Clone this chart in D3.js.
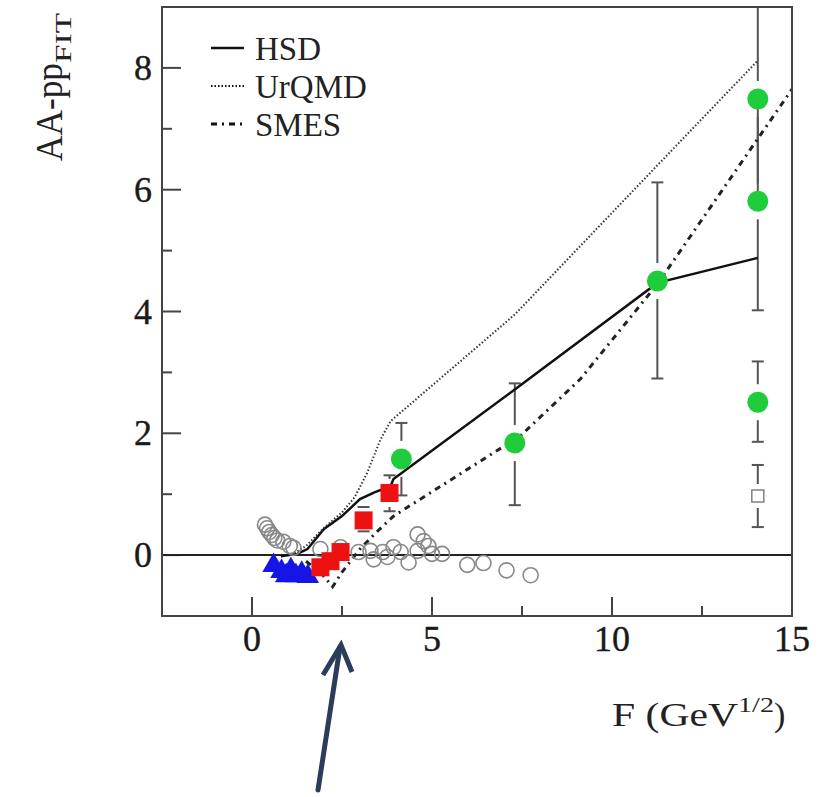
<!DOCTYPE html>
<html><head><meta charset="utf-8">
<script src="https://cdn.jsdelivr.net/npm/d3@7"></script>
<style>body{margin:0;background:#fff}svg{display:block}</style>
</head><body>
<svg id="c" width="828" height="797"></svg>
<script>
// ---- data ----
const xTicks = [0, 5, 10, 15];
const xMinor = [2.5, 7.5, 12.5];
const yTicks = [0, 2, 4, 6, 8];
const yMinor = [1, 3, 5, 7];
const legendNames = ["HSD", "UrQMD", "SMES"];

const hsd = [[0.8,-0.02],[1.26,0.02],[1.54,0.1],[2.0,0.43],[2.5,0.64],[3.0,0.92],[3.4,1.03],[3.85,1.13],[3.93,1.25],[7.3,2.72],[11.26,4.47],[14.05,4.88]];
const urqmd = [[1.1,0.0],[1.5,0.15],[2.0,0.45],[2.5,0.7],[2.85,0.95],[3.2,1.35],[3.57,1.9],[3.85,2.2],[7.3,3.95],[11.26,6.40],[14.05,8.12]];
const smes = [[1.5,-0.1],[1.9,-0.28],[2.24,-0.52],[2.5,-0.28],[3.0,0.1],[3.5,0.4],[3.93,0.64],[7.46,1.96],[9.12,2.89],[11.26,4.45],[15.0,7.65]];

// green circles: x, y, errLow, errHigh
const greenX = [4.15, 7.3, 11.26, 14.05, 14.05, 14.05];
const greenY = [1.58, 1.84, 4.5, 7.49, 5.81, 2.51];
const greenLo = [0.98, 0.82, 2.9, 5.9, 4.02, 1.86];
const greenHi = [2.17, 2.82, 6.12, 9.1, 7.6, 3.18];

// red squares
const redX = [3.82, 3.1, 2.46, 2.18, 1.9];
const redY = [1.02, 0.57, 0.05, -0.1, -0.2];
const redLo = [0.72, 0.39, null, null, null];
const redHi = [1.31, 0.79, null, null, null];

// blue triangles
const blueX = [0.6, 0.82, 0.95, 1.08, 1.22, 1.38, 1.55];
const blueY = [-0.17, -0.27, -0.34, -0.24, -0.34, -0.3, -0.35];

// open gray circles
const grayX = [0.36,0.42,0.48,0.55,0.62,0.7,0.87,1.05,1.15,1.9,2.46,2.96,3.29,3.38,3.63,3.76,3.93,4.13,4.35,4.6,4.6,4.77,4.9,5.0,5.28,5.98,6.43,7.07,7.74];
const grayY = [0.5,0.44,0.38,0.33,0.28,0.24,0.22,0.15,0.12,0.1,0.13,0.05,0.07,-0.07,0.05,-0.03,0.13,0.05,-0.12,0.34,0.07,0.23,0.15,0.02,0.02,-0.16,-0.13,-0.25,-0.33];

// open square
const sqX = [14.05], sqY = [0.97], sqLo = [0.46], sqHi = [1.48];

// ---- drawing ----
const svg = d3.select("#c");
const L = 162, R = 792, T = 7, B = 616;
const x = d3.scaleLinear().domain([-2.5, 15]).range([L, R]);
const y = d3.scaleLinear().domain([-1, 9]).range([B, T]);
const font = "'Liberation Serif', 'Times New Roman', serif";
const axisCol = "#444";

const g = svg.append("g");
g.append("defs").append("clipPath").attr("id","clip").append("rect")
  .attr("x",L).attr("y",T).attr("width",R-L).attr("height",B-T);

// ticks (inward)
g.selectAll(".xt").data(xTicks).join("line")
  .attr("x1",d=>x(d)).attr("x2",d=>x(d)).attr("y1",B).attr("y2",B-19)
  .attr("stroke",axisCol).attr("stroke-width",2);
g.selectAll(".xm").data(xMinor).join("line")
  .attr("x1",d=>x(d)).attr("x2",d=>x(d)).attr("y1",B).attr("y2",B-10)
  .attr("stroke",axisCol).attr("stroke-width",2);
g.selectAll(".yt").data(yTicks).join("line")
  .attr("x1",L).attr("x2",L+19).attr("y1",d=>y(d)).attr("y2",d=>y(d))
  .attr("stroke",axisCol).attr("stroke-width",2);
g.selectAll(".ym").data(yMinor).join("line")
  .attr("x1",L).attr("x2",L+10).attr("y1",d=>y(d)).attr("y2",d=>y(d))
  .attr("stroke",axisCol).attr("stroke-width",2);

// tick labels
g.selectAll(".xl").data(xTicks).join("text")
  .attr("x",d=>x(d)).attr("y",B+35).attr("text-anchor","middle")
  .attr("font-family",font).attr("font-size",36).attr("fill","#1a1a1a")
  .attr("stroke","#1a1a1a").attr("stroke-width",0.4).text(d=>d);
g.selectAll(".yl").data(yTicks).join("text")
  .attr("x",L-10).attr("y",d=>y(d)+12).attr("text-anchor","end")
  .attr("font-family",font).attr("font-size",36).attr("fill","#1a1a1a")
  .attr("stroke","#1a1a1a").attr("stroke-width",0.4).text(d=>d);

// zero line
g.append("line").attr("x1",L).attr("x2",R).attr("y1",y(0)).attr("y2",y(0))
  .attr("stroke","#222").attr("stroke-width",2);

const plot = g.append("g").attr("clip-path","url(#clip)");
const line = d3.line().x(d=>x(d[0])).y(d=>y(d[1]));

// error bars helper
function errBars(xs, ys, lo, hi, gap, col) {
  xs.forEach((xv,i)=>{
    if (lo[i]==null) return;
    const cx = x(xv), cy = y(ys[i]);
    const yl = y(lo[i]), yh = y(hi[i]);
    plot.append("line").attr("x1",cx).attr("x2",cx).attr("y1",yh).attr("y2",Math.max(yh,cy-gap))
      .attr("stroke",col).attr("stroke-width",2);
    plot.append("line").attr("x1",cx).attr("x2",cx).attr("y1",yl).attr("y2",Math.min(yl,cy+gap))
      .attr("stroke",col).attr("stroke-width",2);
    [yl,yh].forEach(v=>plot.append("line").attr("x1",cx-6).attr("x2",cx+6).attr("y1",v).attr("y2",v)
      .attr("stroke",col).attr("stroke-width",2));
  });
}
errBars(greenX, greenY, greenLo, greenHi, 18, "#555");
errBars(redX, redY, redLo, redHi, 14, "#555");
errBars(sqX, sqY, sqLo, sqHi, 12, "#555");

// curves
plot.append("path").datum(hsd).attr("d",line).attr("fill","none").attr("stroke","#111").attr("stroke-width",2.5);
plot.append("path").datum(urqmd).attr("d",line).attr("fill","none").attr("stroke","#333").attr("stroke-width",2).attr("stroke-dasharray","1.5,2");
plot.append("path").datum(smes).attr("d",line).attr("fill","none").attr("stroke","#222").attr("stroke-width",3).attr("stroke-dasharray","6,5,2,5");

// gray open circles
plot.selectAll(".gc").data(grayX).join("circle")
  .attr("cx",d=>x(d)).attr("cy",(d,i)=>y(grayY[i])).attr("r",7.5)
  .attr("fill","none").attr("stroke","#888").attr("stroke-width",1.6);

// blue triangles
const tri = d3.symbol().type(d3.symbolTriangle).size(220);
plot.selectAll(".bt").data(blueX).join("path")
  .attr("d",tri).attr("transform",(d,i)=>`translate(${x(d)},${y(blueY[i])})`)
  .attr("fill","#1515e6");

// red squares
plot.selectAll(".rs").data(redX).join("rect")
  .attr("x",d=>x(d)-9).attr("y",(d,i)=>y(redY[i])-9).attr("width",18).attr("height",18)
  .attr("fill","#ee1111");

// green circles
plot.selectAll(".gr").data(greenX).join("circle")
  .attr("cx",d=>x(d)).attr("cy",(d,i)=>y(greenY[i])).attr("r",10.5)
  .attr("fill","#1fcc3c");

// open square
plot.selectAll(".os").data(sqX).join("rect")
  .attr("x",d=>x(d)-6).attr("y",(d,i)=>y(sqY[i])-6).attr("width",12).attr("height",12)
  .attr("fill","#fff").attr("stroke","#888").attr("stroke-width",1.6);

// frame
g.append("rect").attr("x",L).attr("y",T).attr("width",R-L).attr("height",B-T)
  .attr("fill","none").attr("stroke",axisCol).attr("stroke-width",2);

// legend
const legDash = [null, "1.5,2", "6,5,2,5"];
const legW = [2.5, 2, 3];
legendNames.forEach((n,i)=>{
  const ly = 48 + i*38;
  g.append("line").attr("x1",211).attr("x2",244).attr("y1",ly).attr("y2",ly)
    .attr("stroke","#111").attr("stroke-width",legW[i]).attr("stroke-dasharray",legDash[i]);
  g.append("text").attr("x",255).attr("y",ly+12).attr("font-family",font).attr("font-size",33)
    .attr("fill","#222").text(n);
});

// axis titles
const yt = g.append("text").attr("transform","translate(62,161) rotate(-90)")
  .attr("font-family",font).attr("font-size",37).attr("fill","#222");
yt.append("tspan").attr("textLength",98).attr("lengthAdjust","spacingAndGlyphs").text("AA-pp");
yt.append("tspan").attr("dy",9).attr("font-size",24).attr("textLength",50).attr("lengthAdjust","spacingAndGlyphs").text("FIT");

const xt = g.append("text").attr("x",612).attr("y",726)
  .attr("font-family",font).attr("font-size",34).attr("fill","#222");
xt.append("tspan").attr("textLength",126).attr("lengthAdjust","spacingAndGlyphs").text("F (GeV");
xt.append("tspan").attr("dy",-14).attr("font-size",22).attr("textLength",36).attr("lengthAdjust","spacingAndGlyphs").text("1/2");
xt.append("tspan").attr("dy",14).text(")");

// arrow
const arrowCol = "#2b3d5b";
g.append("line").attr("x1",318).attr("y1",790).attr("x2",340).attr("y2",647)
  .attr("stroke",arrowCol).attr("stroke-width",5).attr("stroke-linecap","round");
g.append("path").attr("d","M323,675 L341,645 L352,672")
  .attr("fill","none").attr("stroke",arrowCol).attr("stroke-width",5).attr("stroke-linejoin","miter");
</script>
</body></html>
